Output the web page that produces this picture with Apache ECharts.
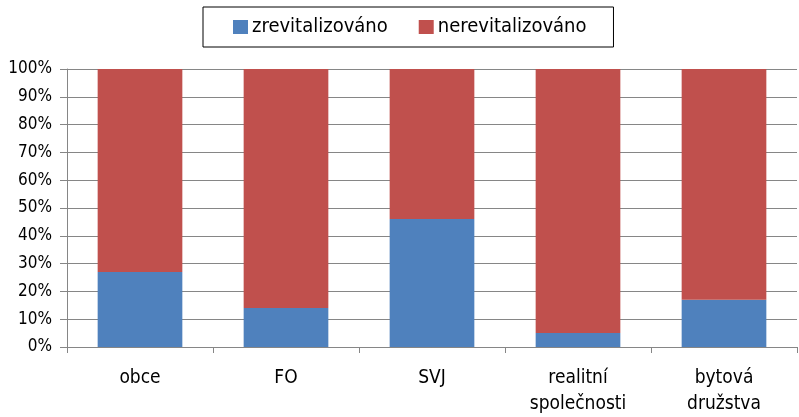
<!DOCTYPE html>
<html>
<head>
<meta charset="utf-8">
<script src="https://cdn.jsdelivr.net/npm/echarts@6/dist/echarts.min.js"></script>
<style>
  html, body { margin: 0; padding: 0; background: #fff; overflow: hidden; }
  #chart { width: 799px; height: 417px; }
</style>
</head>
<body>
<div id="chart"></div>
<script>
const categories = ["obce", "FO", "SVJ", "realitní\nspolečnosti", "bytová\ndružstva"];
const revitalized = [27, 14, 46, 5, 17];
const notRevitalized = [73, 86, 54, 95, 83];
const yTicks = [0, 10, 20, 30, 40, 50, 60, 70, 80, 90, 100];

const font = '"DejaVu Sans Condensed", sans-serif';
const chart = echarts.init(document.getElementById("chart"));

chart.setOption({
  animation: false,
  textStyle: { fontFamily: font },
  legend: {
    data: ["zrevitalizováno", "nerevitalizováno"],
    top: 7,
    left: 203,
    icon: "rect",
    itemWidth: 15,
    itemHeight: 14,
    itemGap: 31,
    borderColor: "#000",
    borderWidth: 1,
    padding: [10, 27, 10, 30],
    textStyle: { fontFamily: font, fontSize: 20, color: "#000", padding: [0, 0, 0, -1] }
  },
  grid: { left: 67, right: 2, top: 69, height: 281, containLabel: false },
  xAxis: {
    type: "category",
    data: categories,
    axisLine: { lineStyle: { color: "#868686" } },
    axisTick: { show: true, length: 6, lineStyle: { color: "#868686" } },
    axisLabel: { fontFamily: font, fontSize: 19, color: "#000", margin: 18, lineHeight: 26 }
  },
  yAxis: {
    type: "value",
    min: 0,
    max: 100,
    interval: 10,
    axisLine: { show: true, lineStyle: { color: "#868686" } },
    axisTick: { show: true, length: 7, lineStyle: { color: "#868686" } },
    splitLine: { lineStyle: { color: "#868686" } },
    axisLabel: {
      fontFamily: font, fontSize: 17, color: "#000", margin: 15,
      formatter: v => (yTicks.includes(v) ? v + "%" : "")
    }
  },
  series: [
    {
      name: "zrevitalizováno",
      type: "bar",
      stack: "total",
      data: revitalized,
      barWidth: "58%",
      itemStyle: { color: "#4F81BD" }
    },
    {
      name: "nerevitalizováno",
      type: "bar",
      stack: "total",
      data: notRevitalized,
      barWidth: "58%",
      itemStyle: { color: "#C0504D" }
    }
  ]
});
</script>
</body>
</html>
